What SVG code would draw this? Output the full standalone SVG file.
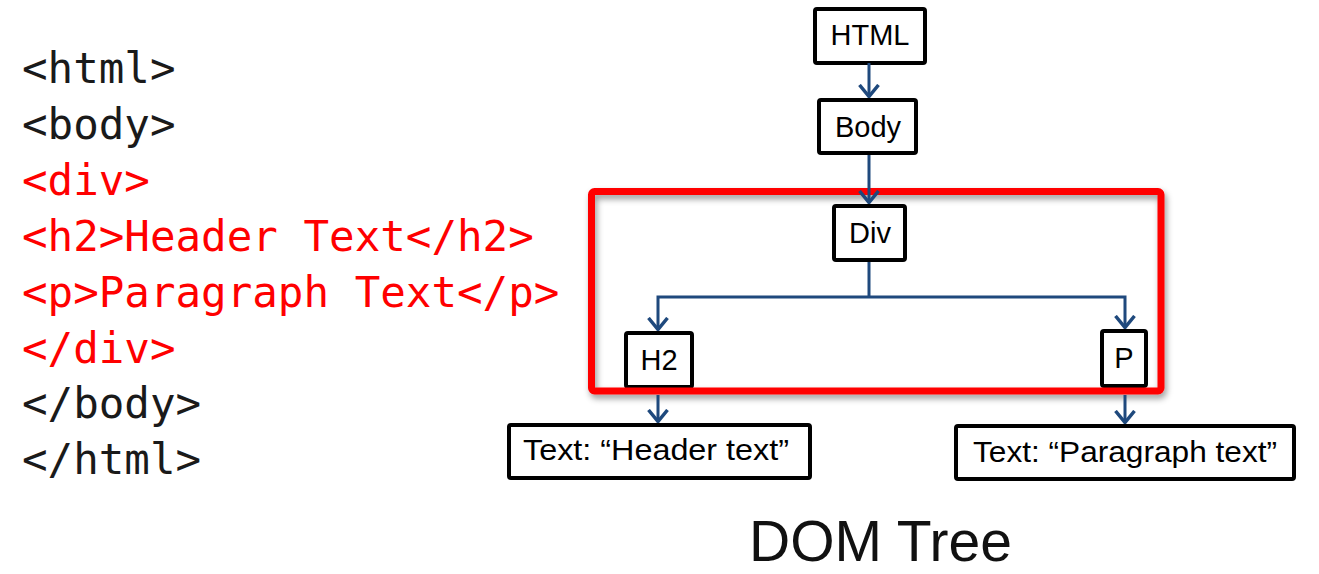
<svg xmlns="http://www.w3.org/2000/svg" width="1319" height="574" viewBox="0 0 1319 574">
  <style>
    .code { font-family: "DejaVu Sans Mono", "Liberation Mono", monospace; font-size: 42.5px; }
    .blk { fill: #1a1a1a; }
    .red { fill: #ff0000; }
    .box { fill: #ffffff; stroke: #000000; stroke-width: 4; }
    .lbl { font-family: "Liberation Sans", Arial, sans-serif; font-size: 29px; fill: #000000; text-anchor: middle; }
    .conn { fill: none; stroke: #1f497d; stroke-width: 3; }
    .title { font-family: "Liberation Sans", Arial, sans-serif; font-size: 57px; fill: #111111; }
  </style>
  <defs>
    <marker id="arr" viewBox="0 0 14 22" refX="13" refY="11" markerWidth="14" markerHeight="22" markerUnits="userSpaceOnUse" orient="auto">
      <path d="M1,1.5 L12.5,11 L1,20.5" fill="none" stroke="#1f497d" stroke-width="3.5" stroke-linejoin="miter"/>
    </marker>
    <filter id="shadow" x="-5%" y="-10%" width="110%" height="125%">
      <feDropShadow dx="2" dy="4" stdDeviation="3" flood-color="#000000" flood-opacity="0.4"/>
    </filter>
  </defs>
  <rect width="1319" height="574" fill="#ffffff"/>

  <g id="code">
    <text class="code blk" x="22" y="83">&lt;html&gt;</text>
    <text class="code blk" x="22" y="139">&lt;body&gt;</text>
    <text class="code red" x="22" y="195">&lt;div&gt;</text>
    <text class="code red" x="22" y="251">&lt;h2&gt;Header Text&lt;/h2&gt;</text>
    <text class="code red" x="22" y="307">&lt;p&gt;Paragraph Text&lt;/p&gt;</text>
    <text class="code red" x="22" y="363">&lt;/div&gt;</text>
    <text class="code blk" x="22" y="418">&lt;/body&gt;</text>
    <text class="code blk" x="22" y="474">&lt;/html&gt;</text>
  </g>

  <g id="node-html">
    <rect class="box" x="815" y="9" width="110" height="54" rx="2"/>
    <text class="lbl" x="870" y="45" font-size="30">HTML</text>
  </g>
  <g id="node-body">
    <rect class="box" x="819" y="100" width="97" height="53" rx="2"/>
    <text class="lbl" x="868" y="137">Body</text>
  </g>
  <g id="node-div">
    <rect class="box" x="834" y="206" width="71" height="54" rx="2"/>
    <text class="lbl" x="870" y="243">Div</text>
  </g>
  <g id="node-h2">
    <rect class="box" x="626" y="333" width="66" height="54" rx="2"/>
    <text class="lbl" x="659" y="370">H2</text>
  </g>
  <g id="node-p">
    <rect class="box" x="1102" y="331" width="44" height="55" rx="2"/>
    <text class="lbl" x="1124" y="368">P</text>
  </g>
  <g id="node-header-text">
    <rect class="box" x="509" y="425" width="301" height="53" rx="2"/>
    <text class="lbl" x="656" y="460" textLength="266" lengthAdjust="spacingAndGlyphs">Text: “Header text”</text>
  </g>
  <g id="node-paragraph-text">
    <rect class="box" x="956" y="426" width="338" height="53" rx="2"/>
    <text class="lbl" x="1125" y="462" textLength="304" lengthAdjust="spacingAndGlyphs">Text: “Paragraph text”</text>
  </g>

  <g id="highlight">
    <rect x="591.5" y="191.5" width="569.5" height="199.5" rx="3" fill="none" stroke="#ff0000" stroke-width="7" filter="url(#shadow)"/>
  </g>

  <g id="connectors">
    <path class="conn" d="M869,63 L869,97" marker-end="url(#arr)"/>
    <path class="conn" d="M869,155 L869,203" marker-end="url(#arr)"/>
    <path class="conn" d="M869,262 L869,297"/>
    <path class="conn" d="M869,297 L658,297 L658,330" marker-end="url(#arr)"/>
    <path class="conn" d="M869,297 L1125,297 L1125,328" marker-end="url(#arr)"/>
    <path class="conn" d="M658,395 L658,422" marker-end="url(#arr)"/>
    <path class="conn" d="M1125,395 L1125,423" marker-end="url(#arr)"/>
  </g>

  <g id="title">
    <text class="title" x="749" y="561">DOM Tree</text>
  </g>
</svg>
